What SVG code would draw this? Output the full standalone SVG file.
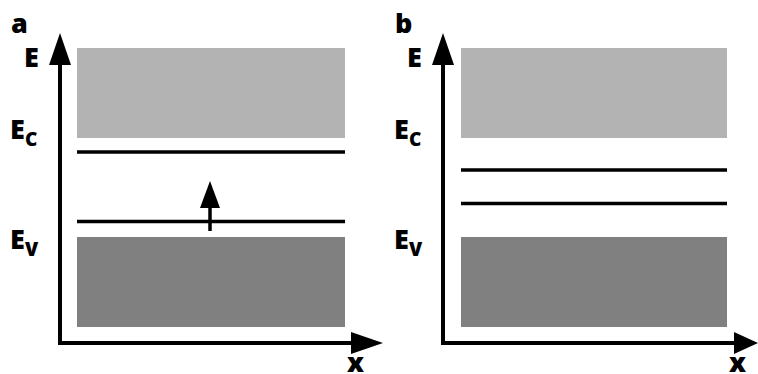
<svg xmlns="http://www.w3.org/2000/svg" width="758" height="374" viewBox="0 0 758 374">
<defs>
<style>
.t{font-family:"Open Sans","Noto Sans","DejaVu Sans",sans-serif;font-weight:800;fill:#000}
.lbl{font-size:27px}
.sub{font-size:19px}
.ax{stroke:#000;stroke-width:4;fill:none}
.lvl{stroke:#000;stroke-width:3.5;fill:none}
.cb{fill:#b3b3b3}
.vb{fill:#808080}
</style>
</defs>
<g id="panel-a">
<text class="t lbl" x="11" y="33">a</text>
<g id="a-cb"><rect class="cb" x="77" y="48" width="268" height="90"/></g>
<g id="a-vb"><rect class="vb" x="77" y="237" width="268" height="90"/></g>
<g id="a-labels">
<text class="t lbl" x="24" y="67">E</text>
<text class="t lbl" x="10" y="139">E</text><text class="t sub" x="25" y="146">C</text>
<text class="t lbl" x="10" y="249">E</text><text class="t sub" x="25" y="256">V</text>
<text class="t lbl" x="347" y="372">x</text>
</g>
</g>
<g id="panel-b">
<text class="t lbl" x="395" y="33">b</text>
<g id="b-cb"><rect class="cb" x="461" y="48" width="266" height="90"/></g>
<g id="b-vb"><rect class="vb" x="461" y="237" width="266" height="90"/></g>
<g id="b-labels">
<text class="t lbl" x="407" y="67">E</text>
<text class="t lbl" x="394" y="139">E</text><text class="t sub" x="409" y="146">C</text>
<text class="t lbl" x="394" y="249">E</text><text class="t sub" x="409" y="256">V</text>
<text class="t lbl" x="729" y="372">x</text>
</g>
</g>
<g id="connectors">
<path class="ax" d="M60,345 V60 M58,343 H355"/>
<polygon points="60,33 49,65 71,65"/>
<polygon points="383,343 351,332 351,354"/>
<path class="ax" d="M443,345 V60 M441,343 H738"/>
<polygon points="443,33 432,65 454,65"/>
<polygon points="758,343 734,332 734,354"/>
<path class="lvl" d="M77,152 H345 M77,221.5 H345 M461,170 H727 M461,203.5 H727"/>
<path class="lvl" d="M210,231 V204" stroke-width="3"/>
<polygon points="210,181 200,208 220,208"/>
</g>
</svg>
